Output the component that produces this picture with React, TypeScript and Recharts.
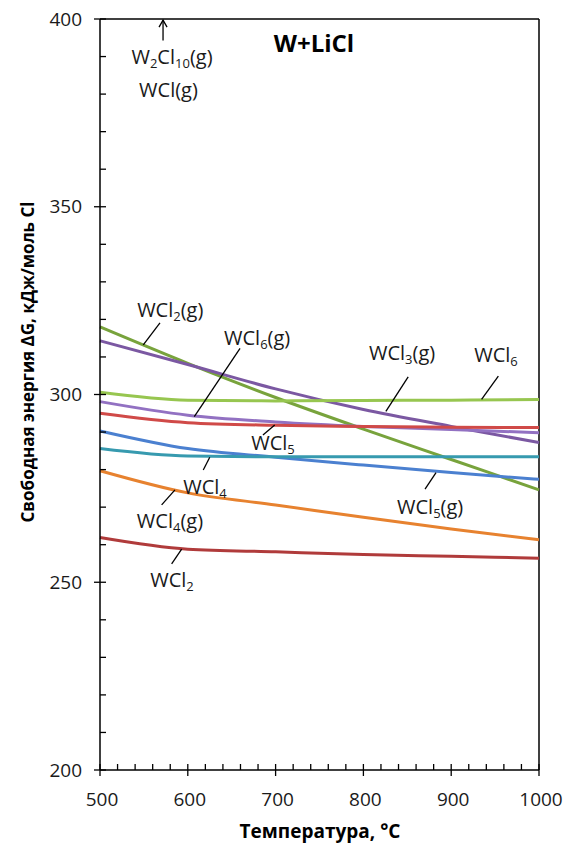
import React from "react";
import {
  LineChart,
  Line,
  XAxis,
  YAxis,
  ReferenceLine,
  ReferenceDot,
} from "recharts";

// temperatures, °C
const temps = [500, 600, 700, 800, 900, 1000];

// ΔG, kJ/mol Cl
const wcl2g = [318, 308.3, 299.2, 290.8, 282.7, 274.6];
const wcl3g = [314.3, 308, 301.5, 296, 291.5, 287.2];
const wcl6 = [300.6, 298.5, 298.3, 298.4, 298.5, 298.7];
const wcl6g = [298.1, 294.5, 292.7, 291.5, 290.7, 289.8];
const wcl5 = [295, 292.5, 291.8, 291.5, 291.3, 291.2];
const wcl5g = [290.3, 285.6, 283.3, 281.2, 279.2, 277.4];
const wcl4 = [285.6, 283.6, 283.4, 283.4, 283.4, 283.4];
const wcl4g = [279.7, 273.8, 270.6, 267.3, 264.2, 261.3];
const wcl2 = [261.9, 258.8, 258.1, 257.4, 256.9, 256.4];

const xTicks = [500, 520, 540, 560, 580, 600, 620, 640, 660, 680, 700, 720, 740, 760, 780, 800, 820, 840, 860, 880, 900, 920, 940, 960, 980, 1000];
const yTicks = [200, 210, 220, 230, 240, 250, 260, 270, 280, 290, 300, 310, 320, 330, 340, 350, 360, 370, 380, 390, 400];

const series = [
  { key: "wcl2g", values: wcl2g, color: "#78a33c" },
  { key: "wcl3g", values: wcl3g, color: "#7b58a2" },
  { key: "wcl6", values: wcl6, color: "#97c650" },
  { key: "wcl6g", values: wcl6g, color: "#9271c2" },
  { key: "wcl5", values: wcl5, color: "#d04a48" },
  { key: "wcl5g", values: wcl5g, color: "#4b80d0" },
  { key: "wcl4", values: wcl4, color: "#379aaf" },
  { key: "wcl4g", values: wcl4g, color: "#e7822f" },
  { key: "wcl2", values: wcl2, color: "#b03b3b" },
];

const rows = temps.map((t, i) => {
  const r: Record<string, number> = { t };
  series.forEach((s) => (r[s.key] = s.values[i]));
  return r;
});

// label text parts: [text, isSubscript]
type Part = [string, boolean?];
const labels: { parts: Part[]; x: number; y: number }[] = [
  { parts: [["W"], ["2", true], ["Cl"], ["10", true], ["(g)"]], x: 582, y: 390 },
  { parts: [["WCl(g)"]], x: 578, y: 381.2 },
  { parts: [["WCl"], ["2", true], ["(g)"]], x: 580, y: 322.5 },
  { parts: [["WCl"], ["6", true], ["(g)"]], x: 679, y: 315 },
  { parts: [["WCl"], ["3", true], ["(g)"]], x: 844, y: 311 },
  { parts: [["WCl"], ["6", true]], x: 951, y: 310.5 },
  { parts: [["WCl"], ["5", true]], x: 697, y: 287.1 },
  { parts: [["WCl"], ["4", true]], x: 619.6, y: 275.4 },
  { parts: [["WCl"], ["4", true], ["(g)"]], x: 579.7, y: 266.3 },
  { parts: [["WCl"], ["2", true]], x: 582, y: 250.6 },
  { parts: [["WCl"], ["5", true], ["(g)"]], x: 876, y: 270 },
];

const leaders = [
  [[568.3, 319.1], [549.3, 313.2]],
  [[659.5, 312.3], [607.4, 294.1]],
  [[851, 304.7], [825.6, 295.5]],
  [[953.7, 304.9], [934.6, 298.7]],
  [[699, 291.9], [685.6, 289.2]],
  [[625, 283.3], [617.6, 279.9]],
  [[585.4, 274.6], [570.2, 270.6]],
  [[593, 258.8], [581.6, 254.9]],
  [[882.7, 279.2], [870.2, 274.8]],
];

const FONT = "'Open Sans', sans-serif";

const XTick = (props: any) => {
  const { x, y, payload } = props;
  const major = payload.value % 100 === 0;
  return (
    <g>
      <line x1={x} x2={x} y1={y - 6} y2={major ? y + 6 : y} stroke="#000" strokeWidth={1.3} />
      {major && (
        <text x={x + 2} y={y + 36} textAnchor="middle" fontSize={19} fontFamily={FONT} fill="#1a1a1a">
          {payload.value}
        </text>
      )}
    </g>
  );
};

const YTick = (props: any) => {
  const { x, y, payload } = props;
  const major = payload.value % 50 === 0;
  return (
    <g>
      <line x1={major ? x - 6 : x} x2={x + 6} y1={y} y2={y} stroke="#000" strokeWidth={1.3} />
      {major && (
        <text x={x - 18} y={y} dy="0.35em" textAnchor="end" fontSize={19} fontFamily={FONT} fill="#1a1a1a">
          {payload.value}
        </text>
      )}
    </g>
  );
};

const Label = ({ cx, cy, parts }: any) => (
  <text x={cx} y={cy + 7} textAnchor="middle" fontSize={20} fontFamily={FONT} fill="#1a1a1a">
    {parts.map((p: Part, i: number) => {
      const prevSub = i > 0 && parts[i - 1][1];
      const dy = p[1] ? (prevSub ? 0 : 4) : prevSub ? -4 : 0;
      return (
        <tspan key={i} dy={dy || undefined} fontSize={p[1] ? 13 : 20}>
          {p[0]}
        </tspan>
      );
    })}
  </text>
);

const Arrow = (props: any) => {
  const { x1, y1, x2, y2 } = props;
  const tx = x1, ty = Math.min(y1, y2), by = Math.max(y1, y2);
  return (
    <g stroke="#000" strokeWidth={1.3} fill="none">
      <line x1={tx} x2={x2} y1={ty} y2={by} />
      <polyline points={`${tx - 4},${ty + 7} ${tx},${ty} ${tx + 4},${ty + 7}`} />
    </g>
  );
};

export default function App() {
  return (
    <div style={{ position: "absolute", left: 0, top: 0, width: 581, height: 851, background: "#fff" }}>
      <LineChart width={581} height={851} data={rows} margin={{ top: 19, right: 42, bottom: 0, left: 0 }}>
        <XAxis
          dataKey="t"
          type="number"
          domain={[500, 1000]}
          ticks={xTicks}
          interval={0}
          height={81}
          tickSize={0}
          tickMargin={0}
          tickLine={false}
          tick={<XTick />}
          axisLine={{ stroke: "#000", strokeWidth: 1.5 }}
        />
        <YAxis
          type="number"
          domain={[200, 400]}
          ticks={yTicks}
          interval={0}
          width={100}
          tickSize={0}
          tickMargin={0}
          tickLine={false}
          tick={<YTick />}
          axisLine={{ stroke: "#000", strokeWidth: 1.5 }}
        />
        <ReferenceLine y={400} stroke="#000" strokeWidth={1.5} />
        <ReferenceLine x={1000} stroke="#000" strokeWidth={1.5} />
        {series.map((s) => (
          <Line
            key={s.key}
            dataKey={s.key}
            type="monotone"
            stroke={s.color}
            strokeWidth={3}
            dot={false}
            isAnimationActive={false}
          />
        ))}
        {leaders.map((l, i) => (
          <ReferenceLine
            key={"ld" + i}
            segment={[{ x: l[0][0], y: l[0][1] }, { x: l[1][0], y: l[1][1] }]}
            stroke="#000"
            strokeWidth={1.3}
            ifOverflow="visible"
          />
        ))}
        <ReferenceLine
          segment={[{ x: 571.8, y: 399.7 }, { x: 571.8, y: 394.3 }]}
          ifOverflow="visible"
          shape={(p: any) => <Arrow {...p} />}
        />
        {labels.map((lb, i) => (
          <ReferenceDot
            key={"lb" + i}
            x={lb.x}
            y={lb.y}
            r={0}
            ifOverflow="visible"
            shape={(p: any) => <Label cx={p.cx} cy={p.cy} parts={lb.parts} />}
          />
        ))}
        <ReferenceDot
          x={743.7}
          y={393.3}
          r={0}
          ifOverflow="visible"
          shape={(p: any) => (
            <text x={p.cx} y={p.cy + 8} textAnchor="middle" fontSize={24} fontWeight="bold" fontFamily={FONT} fill="#000">
              W+LiCl
            </text>
          )}
        />
        <text x={320} y={838} textAnchor="middle" fontSize={19} fontWeight="bold" fontFamily={FONT} fill="#000">
          Температура, °C
        </text>
        <text
          x={28}
          y={362}
          transform="rotate(-90 28 362)"
          dy="0.35em"
          textAnchor="middle"
          fontSize={17}
          fontWeight="bold"
          fontFamily={FONT}
          fill="#000"
        >
          Свободная энергия ΔG, кДж/моль Cl
        </text>
      </LineChart>
    </div>
  );
}
